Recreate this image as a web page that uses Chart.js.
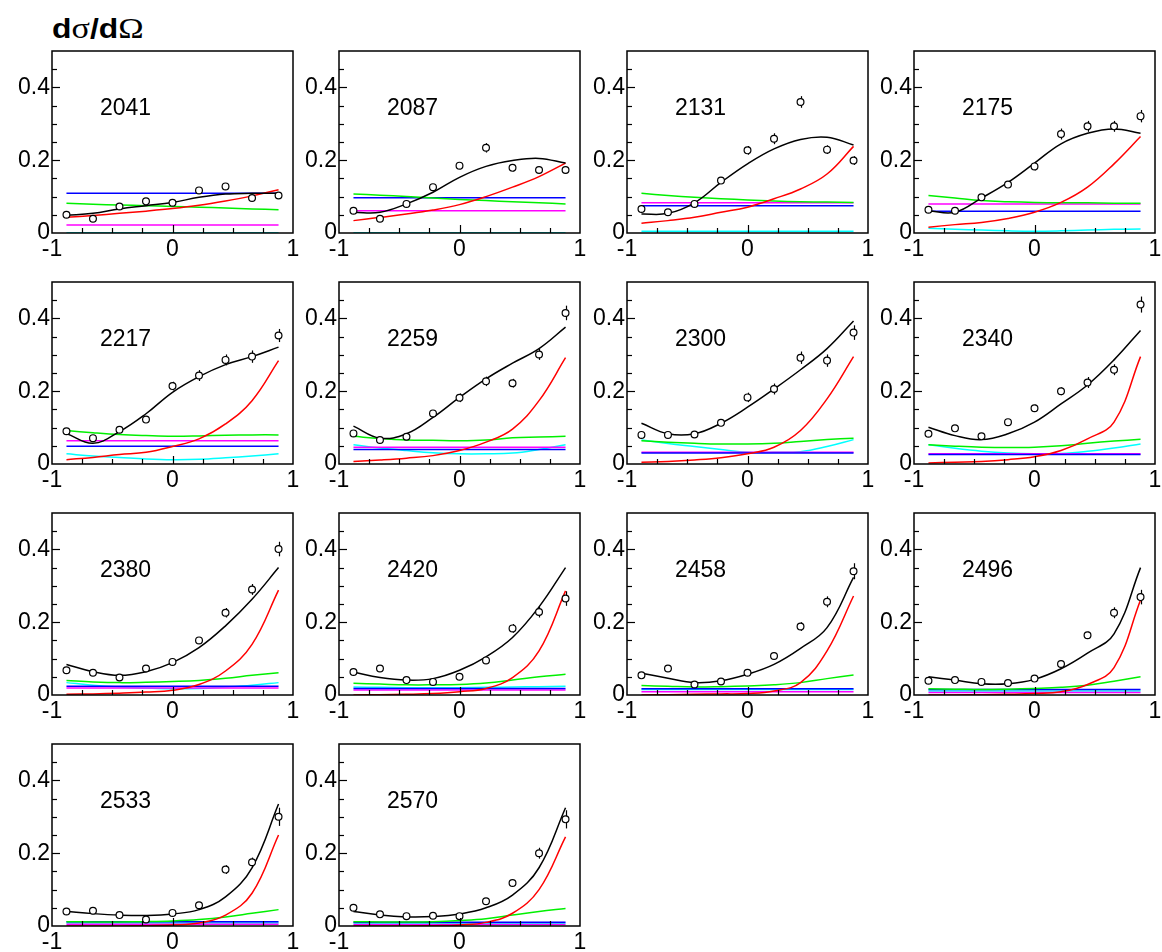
<!DOCTYPE html>
<html>
<head>
<meta charset="utf-8">
<script src="https://cdn.jsdelivr.net/npm/chart.js@4.4.1/dist/chart.umd.min.js"></script>
<style>
  html, body { margin: 0; padding: 0; background: #fff; }
  body { width: 1162px; height: 952px; position: relative; overflow: hidden;
         font-family: "Liberation Sans", Arial, sans-serif; }
  #title { position: absolute; left: 52px; top: 13px; font-size: 27px; line-height: 30px;
           font-weight: bold; white-space: nowrap; transform: scaleX(1.18); transform-origin: left top; }
  #title .g { font-family: "Liberation Serif", "Times New Roman", serif; font-weight: normal; font-size: 29px; }
  canvas { position: absolute; }
</style>
</head>
<body>
<div id="title">d<span class="g">σ</span>/d<span class="g">Ω</span></div>
<script>
// Angular bins (cos θ) of the measurement and of the model curves
const cosTheta = [-0.88, -0.66, -0.44, -0.22, 0, 0.22, 0.44, 0.66, 0.88];
const curveEnds = [-0.88, 0.88];

// Beam energies, one panel each
const energies = [2041, 2087, 2131, 2175, 2217, 2259, 2300, 2340, 2380, 2420, 2458, 2496, 2533, 2570];

// Measured dσ/dΩ per panel
const measured = [
  [0.050, 0.039, 0.073, 0.087, 0.083, 0.117, 0.128, 0.096, 0.103],
  [0.061, 0.039, 0.080, 0.126, 0.185, 0.234, 0.179, 0.173, 0.173],
  [0.066, 0.057, 0.080, 0.144, 0.227, 0.259, 0.360, 0.229, 0.199],
  [0.064, 0.061, 0.098, 0.133, 0.183, 0.272, 0.293, 0.293, 0.321],
  [0.090, 0.071, 0.094, 0.122, 0.214, 0.243, 0.286, 0.295, 0.353],
  [0.084, 0.066, 0.075, 0.139, 0.182, 0.227, 0.222, 0.301, 0.415],
  [0.080, 0.080, 0.081, 0.113, 0.183, 0.206, 0.292, 0.284, 0.361],
  [0.083, 0.098, 0.076, 0.115, 0.153, 0.200, 0.224, 0.259, 0.438],
  [0.068, 0.061, 0.048, 0.073, 0.091, 0.150, 0.226, 0.290, 0.401],
  [0.063, 0.073, 0.041, 0.036, 0.050, 0.095, 0.183, 0.228, 0.265],
  [0.054, 0.073, 0.029, 0.037, 0.061, 0.107, 0.188, 0.256, 0.340],
  [0.039, 0.041, 0.036, 0.033, 0.045, 0.085, 0.164, 0.226, 0.269],
  [0.040, 0.042, 0.030, 0.018, 0.036, 0.057, 0.155, 0.175, 0.300],
  [0.050, 0.032, 0.027, 0.028, 0.027, 0.068, 0.118, 0.200, 0.293]
];

// Statistical errors of the measurement
const measuredErr = [
  [0.006, 0.006, 0.006, 0.006, 0.006, 0.007, 0.008, 0.007, 0.007],
  [0.006, 0.006, 0.007, 0.008, 0.010, 0.013, 0.010, 0.009, 0.009],
  [0.006, 0.006, 0.007, 0.009, 0.012, 0.015, 0.016, 0.012, 0.012],
  [0.006, 0.006, 0.007, 0.009, 0.011, 0.015, 0.015, 0.015, 0.017],
  [0.006, 0.006, 0.007, 0.008, 0.012, 0.015, 0.015, 0.017, 0.018],
  [0.007, 0.007, 0.007, 0.009, 0.012, 0.013, 0.012, 0.015, 0.020],
  [0.007, 0.007, 0.007, 0.009, 0.013, 0.015, 0.017, 0.017, 0.020],
  [0.007, 0.007, 0.007, 0.008, 0.010, 0.011, 0.015, 0.015, 0.022],
  [0.006, 0.006, 0.006, 0.007, 0.007, 0.009, 0.013, 0.015, 0.020],
  [0.006, 0.006, 0.006, 0.006, 0.007, 0.008, 0.012, 0.015, 0.020],
  [0.006, 0.006, 0.006, 0.006, 0.007, 0.008, 0.012, 0.015, 0.022],
  [0.005, 0.005, 0.005, 0.005, 0.006, 0.008, 0.010, 0.015, 0.020],
  [0.005, 0.005, 0.005, 0.005, 0.006, 0.007, 0.012, 0.013, 0.025],
  [0.005, 0.005, 0.005, 0.005, 0.008, 0.007, 0.008, 0.015, 0.025]
];

// Full model (black)
const totalFit = [
  [0.048, 0.054, 0.066, 0.075, 0.084, 0.098, 0.107, 0.109, 0.109],
  [0.057, 0.057, 0.080, 0.112, 0.153, 0.183, 0.199, 0.205, 0.192],
  [0.052, 0.054, 0.083, 0.139, 0.190, 0.231, 0.257, 0.263, 0.242],
  [0.061, 0.057, 0.096, 0.139, 0.192, 0.245, 0.274, 0.286, 0.274],
  [0.084, 0.057, 0.089, 0.138, 0.197, 0.240, 0.273, 0.295, 0.321],
  [0.104, 0.071, 0.083, 0.128, 0.183, 0.234, 0.277, 0.317, 0.376],
  [0.112, 0.083, 0.083, 0.112, 0.156, 0.206, 0.259, 0.317, 0.393],
  [0.101, 0.078, 0.067, 0.083, 0.115, 0.165, 0.217, 0.286, 0.367],
  [0.084, 0.064, 0.054, 0.064, 0.089, 0.130, 0.190, 0.263, 0.350],
  [0.063, 0.048, 0.041, 0.045, 0.068, 0.105, 0.158, 0.242, 0.350],
  [0.060, 0.046, 0.034, 0.039, 0.057, 0.084, 0.128, 0.185, 0.323],
  [0.050, 0.041, 0.031, 0.031, 0.043, 0.072, 0.115, 0.168, 0.350],
  [0.040, 0.034, 0.030, 0.029, 0.033, 0.045, 0.080, 0.160, 0.335],
  [0.040, 0.030, 0.025, 0.026, 0.033, 0.050, 0.085, 0.160, 0.325]
];

// Partial contributions
const redCurve = [
  [0.043, 0.048, 0.054, 0.060, 0.067, 0.076, 0.088, 0.102, 0.119],
  [0.034, 0.043, 0.052, 0.063, 0.078, 0.100, 0.126, 0.155, 0.192],
  [0.027, 0.034, 0.043, 0.057, 0.071, 0.094, 0.121, 0.162, 0.238],
  [0.016, 0.023, 0.029, 0.040, 0.057, 0.084, 0.126, 0.190, 0.265],
  [0.012, 0.018, 0.026, 0.032, 0.048, 0.069, 0.110, 0.174, 0.284],
  [0.007, 0.011, 0.016, 0.023, 0.037, 0.060, 0.096, 0.174, 0.292],
  [0.005, 0.007, 0.011, 0.017, 0.028, 0.046, 0.092, 0.179, 0.295],
  [0.003, 0.005, 0.007, 0.012, 0.020, 0.037, 0.069, 0.115, 0.295],
  [0.002, 0.003, 0.005, 0.008, 0.013, 0.029, 0.066, 0.139, 0.288],
  [0.000, 0.001, 0.002, 0.004, 0.009, 0.018, 0.048, 0.121, 0.286],
  [0.000, 0.001, 0.002, 0.003, 0.004, 0.011, 0.034, 0.121, 0.272],
  [0.000, 0.000, 0.001, 0.002, 0.004, 0.009, 0.029, 0.075, 0.261],
  [0.000, 0.000, 0.000, 0.001, 0.003, 0.008, 0.030, 0.090, 0.250],
  [0.000, 0.000, 0.000, 0.001, 0.003, 0.010, 0.035, 0.100, 0.245]
];

const greenCurve = [
  [0.082, 0.079, 0.077, 0.075, 0.073, 0.071, 0.069, 0.066, 0.064],
  [0.107, 0.104, 0.100, 0.096, 0.092, 0.089, 0.086, 0.083, 0.080],
  [0.109, 0.103, 0.098, 0.094, 0.091, 0.088, 0.086, 0.085, 0.084],
  [0.103, 0.096, 0.089, 0.086, 0.084, 0.083, 0.083, 0.082, 0.082],
  [0.092, 0.086, 0.081, 0.078, 0.076, 0.077, 0.079, 0.080, 0.080],
  [0.076, 0.070, 0.066, 0.065, 0.064, 0.066, 0.072, 0.074, 0.076],
  [0.064, 0.060, 0.057, 0.055, 0.055, 0.057, 0.062, 0.067, 0.071],
  [0.053, 0.049, 0.046, 0.045, 0.046, 0.050, 0.057, 0.063, 0.068],
  [0.040, 0.036, 0.034, 0.035, 0.037, 0.040, 0.046, 0.054, 0.061],
  [0.032, 0.030, 0.028, 0.028, 0.029, 0.033, 0.041, 0.050, 0.057],
  [0.026, 0.024, 0.022, 0.023, 0.025, 0.028, 0.034, 0.045, 0.055],
  [0.017, 0.016, 0.015, 0.016, 0.018, 0.021, 0.027, 0.038, 0.050],
  [0.012, 0.011, 0.011, 0.012, 0.014, 0.018, 0.025, 0.035, 0.045],
  [0.012, 0.011, 0.011, 0.012, 0.015, 0.020, 0.030, 0.040, 0.048]
];

const cyanCurve = [
  [0.001, 0.001, 0.001, 0.001, 0.001, 0.001, 0.001, 0.001, 0.001],
  [0.001, 0.001, 0.001, 0.001, 0.001, 0.001, 0.001, 0.001, 0.001],
  [0.005, 0.005, 0.005, 0.005, 0.005, 0.005, 0.005, 0.005, 0.005],
  [0.013, 0.010, 0.008, 0.006, 0.005, 0.006, 0.008, 0.010, 0.011],
  [0.028, 0.022, 0.018, 0.014, 0.012, 0.013, 0.017, 0.022, 0.028],
  [0.053, 0.044, 0.037, 0.031, 0.028, 0.028, 0.030, 0.040, 0.053],
  [0.066, 0.056, 0.048, 0.040, 0.032, 0.032, 0.034, 0.048, 0.067],
  [0.053, 0.043, 0.035, 0.030, 0.028, 0.029, 0.035, 0.044, 0.055],
  [0.034, 0.027, 0.022, 0.019, 0.017, 0.018, 0.022, 0.027, 0.034],
  [0.022, 0.021, 0.020, 0.020, 0.020, 0.021, 0.022, 0.023, 0.024],
  [0.015, 0.015, 0.015, 0.015, 0.015, 0.015, 0.015, 0.015, 0.015],
  [0.011, 0.011, 0.011, 0.011, 0.011, 0.011, 0.011, 0.011, 0.011],
  [0.008, 0.008, 0.008, 0.008, 0.008, 0.008, 0.008, 0.008, 0.008],
  [0.007, 0.007, 0.007, 0.007, 0.007, 0.007, 0.007, 0.007, 0.007]
];

// Flat contributions, given at the two ends of the angular range
const blueLine = [
  [0.109, 0.109], [0.097, 0.097], [0.075, 0.075], [0.060, 0.060], [0.049, 0.049],
  [0.040, 0.040], [0.030, 0.030], [0.026, 0.026], [0.024, 0.024], [0.018, 0.018],
  [0.017, 0.017], [0.015, 0.015], [0.012, 0.012], [0.010, 0.010]
];
const magentaLine = [
  [0.022, 0.022], [0.061, 0.061], [0.083, 0.083], [0.080, 0.080], [0.064, 0.064],
  [0.046, 0.046], [0.032, 0.032], [0.028, 0.028], [0.019, 0.019], [0.014, 0.014],
  [0.009, 0.009], [0.007, 0.007], [0.005, 0.005], [0.004, 0.004]
];

// Axis labels
const yTickLabels = [0, 0.2, 0.4];
const xTickLabels = [-1, 0, 1];

// Page layout of the 4x4 grid
const PLOT_W = 241, PLOT_H = 182;
const Y_AXIS_W = 52, X_AXIS_H = 30, PAD_TOP = 10, PAD_RIGHT = 8;
const colLeft = [52, 339, 627, 914];
const rowTop = [51, 282, 513, 744];
const FONT = '"Liberation Sans", Arial, Helvetica, sans-serif';

function pairs(xs, ys) {
  return xs.map((x, k) => ({ x: x, y: ys[k] }));
}

function curve(color, data, order) {
  return {
    data: data, showLine: true, borderColor: color, borderWidth: 1.5,
    pointRadius: 0, tension: 0.4, fill: false, order: order
  };
}

// Frame, inward ticks, error bars and energy label
const panelDecor = {
  id: 'panelDecor',
  beforeDatasetsDraw(chart, args, opts) {
    const ctx = chart.ctx, xs = chart.scales.x, ys = chart.scales.y;
    const vals = measured[opts.index], errs = measuredErr[opts.index];
    ctx.save();
    ctx.strokeStyle = '#000';
    ctx.lineWidth = 1.2;
    cosTheta.forEach((c, k) => {
      const px = Math.round(xs.getPixelForValue(c)) + 0.5;
      ctx.beginPath();
      ctx.moveTo(px, ys.getPixelForValue(vals[k] - errs[k]));
      ctx.lineTo(px, ys.getPixelForValue(vals[k] + errs[k]));
      ctx.stroke();
    });
    ctx.restore();
  },
  afterDraw(chart, args, opts) {
    const ctx = chart.ctx, xs = chart.scales.x, ys = chart.scales.y, a = chart.chartArea;
    ctx.save();
    ctx.strokeStyle = '#000';
    ctx.lineWidth = 1.2;
    // y ticks every 0.05, longer at labelled values
    for (let k = 1; k <= 9; k++) {
      const py = Math.round(ys.getPixelForValue(k * 0.05)) + 0.5;
      const len = (k % 4 === 0) ? 8 : 5;
      ctx.beginPath(); ctx.moveTo(a.left, py); ctx.lineTo(a.left + len, py); ctx.stroke();
    }
    // x ticks every 0.25, longer at 0
    for (let k = -3; k <= 3; k++) {
      const px = Math.round(xs.getPixelForValue(k * 0.25)) + 0.5;
      const len = (k === 0) ? 8 : 5;
      ctx.beginPath(); ctx.moveTo(px, a.bottom); ctx.lineTo(px, a.bottom - len); ctx.stroke();
    }
    // frame
    ctx.lineWidth = 1.5;
    ctx.strokeRect(a.left, a.top, a.right - a.left, a.bottom - a.top);
    // energy label
    ctx.fillStyle = '#000';
    ctx.font = '23px ' + FONT;
    ctx.textAlign = 'left';
    ctx.textBaseline = 'alphabetic';
    ctx.fillText(String(energies[opts.index]), a.left + 48, a.top + 64);
    ctx.restore();
  }
};

energies.forEach((e, i) => {
  const col = i % 4, row = Math.floor(i / 4);
  const cv = document.createElement('canvas');
  const w = Y_AXIS_W + PLOT_W + PAD_RIGHT, h = PAD_TOP + PLOT_H + X_AXIS_H;
  cv.width = w; cv.height = h;
  cv.style.width = w + 'px'; cv.style.height = h + 'px';
  cv.style.left = (colLeft[col] - Y_AXIS_W) + 'px';
  cv.style.top = (rowTop[row] - PAD_TOP) + 'px';
  document.body.appendChild(cv);

  new Chart(cv, {
    type: 'scatter',
    data: {
      datasets: [
        {
          data: pairs(cosTheta, measured[i]), pointRadius: 3.4, pointBorderWidth: 1.2,
          pointBorderColor: '#000', pointBackgroundColor: '#fff', showLine: false, order: 0
        },
        curve('#000000', pairs(cosTheta, totalFit[i]), 1),
        curve('#ff0000', pairs(cosTheta, redCurve[i]), 2),
        curve('#00f000', pairs(cosTheta, greenCurve[i]), 3),
        curve('#0000ff', pairs(curveEnds, blueLine[i]), 4),
        curve('#ff00ff', pairs(curveEnds, magentaLine[i]), 5),
        curve('#00ffff', pairs(cosTheta, cyanCurve[i]), 6)
      ]
    },
    options: {
      responsive: false,
      animation: false,
      devicePixelRatio: 1,
      events: [],
      layout: { padding: { top: PAD_TOP, right: PAD_RIGHT, left: 0, bottom: 0 } },
      plugins: {
        legend: { display: false },
        tooltip: { enabled: false },
        panelDecor: { index: i }
      },
      scales: {
        x: {
          type: 'linear', min: -1, max: 1,
          grid: { display: false, drawTicks: false }, border: { display: false },
          afterBuildTicks: s => { s.ticks = xTickLabels.map(v => ({ value: v })); },
          afterFit: s => { s.height = X_AXIS_H; s.paddingLeft = 0; s.paddingRight = 0; },
          ticks: {
            color: '#000', font: { family: FONT, size: 23 }, padding: 3,
            maxRotation: 0, autoSkip: false, callback: v => String(v)
          }
        },
        y: {
          type: 'linear', min: 0, max: 0.5,
          grid: { display: false, drawTicks: false }, border: { display: false },
          afterBuildTicks: s => { s.ticks = yTickLabels.map(v => ({ value: v })); },
          afterFit: s => { s.width = Y_AXIS_W; s.paddingTop = 0; s.paddingBottom = 0; },
          ticks: {
            color: '#000', font: { family: FONT, size: 23 }, padding: 2,
            autoSkip: false, callback: v => String(v)
          }
        }
      }
    },
    plugins: [panelDecor]
  });
});
</script>
</body>
</html>
